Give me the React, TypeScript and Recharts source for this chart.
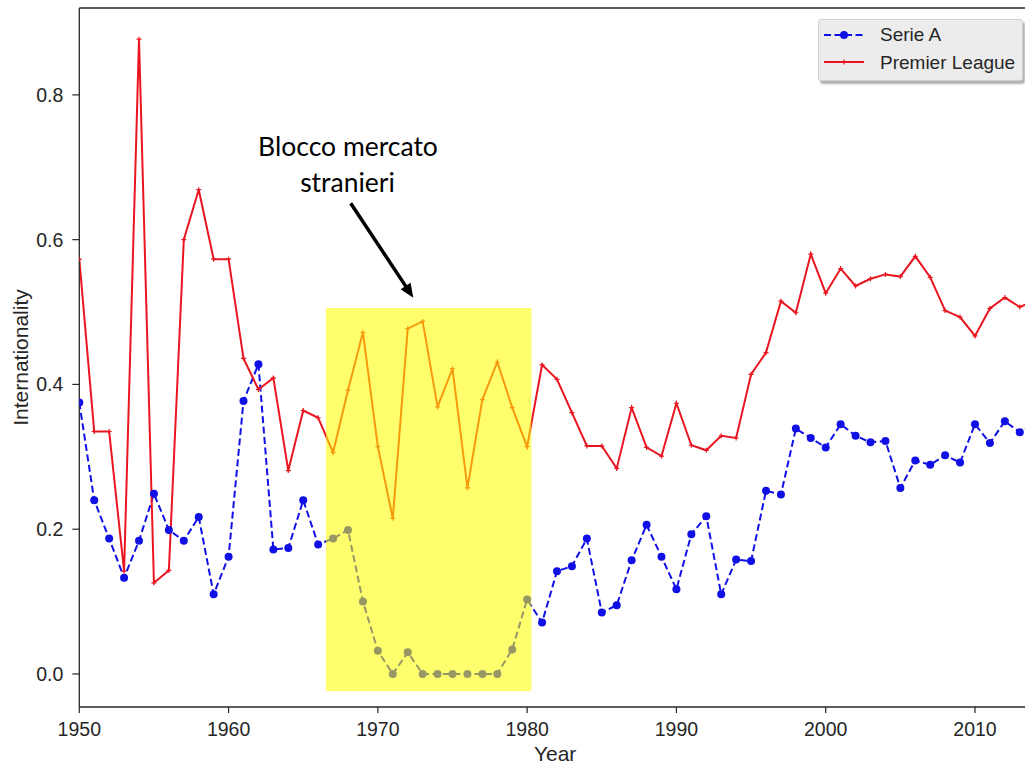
import { LineChart, Line, XAxis, YAxis, ReferenceArea, ReferenceLine, Label } from "recharts";

const years = [
  1950, 1951, 1952, 1953, 1954, 1955, 1956, 1957, 1958, 1959,
  1960, 1961, 1962, 1963, 1964, 1965, 1966, 1967, 1968, 1969,
  1970, 1971, 1972, 1973, 1974, 1975, 1976, 1977, 1978, 1979,
  1980, 1981, 1982, 1983, 1984, 1985, 1986, 1987, 1988, 1989,
  1990, 1991, 1992, 1993, 1994, 1995, 1996, 1997, 1998, 1999,
  2000, 2001, 2002, 2003, 2004, 2005, 2006, 2007, 2008, 2009,
  2010, 2011, 2012, 2013, 2014,
];

const serieA = [
  0.375, 0.24, 0.187, 0.133, 0.184, 0.249, 0.199, 0.184, 0.217, 0.11,
  0.162, 0.377, 0.428, 0.172, 0.174, 0.24, 0.179, 0.187, 0.199, 0.1,
  0.032, 0.0, 0.03, 0.0, 0.0, 0.0, 0.0, 0.0, 0.0, 0.034,
  0.103, 0.071, 0.142, 0.149, 0.187, 0.085, 0.095, 0.157, 0.206, 0.162,
  0.117, 0.193, 0.218, 0.11, 0.158, 0.156, 0.253, 0.248, 0.339, 0.326,
  0.313, 0.345, 0.329, 0.32, 0.322, 0.257, 0.295, 0.289, 0.302, 0.292,
  0.345, 0.319, 0.349, 0.334, 0.345,
];

const premierLeague = [
  0.573, 0.335, 0.335, 0.142, 0.877, 0.126, 0.143, 0.6, 0.669, 0.573,
  0.573, 0.436, 0.393, 0.409, 0.281, 0.364, 0.354, 0.306, 0.392, 0.472,
  0.314, 0.215, 0.477, 0.487, 0.369, 0.422, 0.257, 0.379, 0.431, 0.368,
  0.314, 0.427, 0.407, 0.361, 0.315, 0.315, 0.284, 0.368, 0.313, 0.301,
  0.374, 0.316, 0.309, 0.329, 0.326, 0.414, 0.444, 0.515, 0.499, 0.58,
  0.526, 0.56, 0.536, 0.546, 0.552, 0.549, 0.577, 0.548, 0.502, 0.493,
  0.467, 0.505, 0.52, 0.507, 0.515,
];

const xTicks = [1950, 1960, 1970, 1980, 1990, 2000, 2010];
const yTicks = [0, 0.2, 0.4, 0.6, 0.8];

// highlighted period ("Blocco mercato stranieri")
const blockStart = 1966.52;
const blockEnd = 1980.28;
const blockLow = -0.024;
const blockHigh = 0.5055;

const X_MIN = 1950;
const X_MAX = 2013.35;
const Y_MIN = -0.0456;
const Y_MAX = 0.92;

const BLUE = "#1010e6";
const RED = "#ea1520";
const INK = "#262626";
const FONT = "'Liberation Sans', Arial, sans-serif";

const data = years.map((year, i) => ({
  year,
  serieA: serieA[i],
  premier: premierLeague[i],
}));

const blueDot = (p: any) => (
  <circle key={`sa-${p.index}`} cx={p.cx} cy={p.cy} r={4} fill={BLUE} />
);

const redDot = (p: any) => (
  <path
    key={`pl-${p.index}`}
    d={`M${p.cx - 2.5},${p.cy}h5M${p.cx},${p.cy - 2.5}v5`}
    stroke={RED}
    strokeWidth={1.2}
  />
);

function LegendBox() {
  return (
    <div
      style={{
        position: "absolute",
        left: 818,
        top: 19,
        width: 205,
        height: 62,
        background: "#ececec",
        border: "1px solid #d0d0d0",
        borderRadius: 3,
        boxShadow: "2px 3px 2px rgba(0,0,0,0.3)",
        fontFamily: FONT,
        fontSize: 19,
        color: INK,
        boxSizing: "border-box",
      }}
    >
      <svg width={50} height={61} style={{ position: "absolute", left: 0, top: 0 }}>
        <line x1={5} y1={15} x2={45} y2={15} stroke={BLUE} strokeWidth={2} strokeDasharray="7 3.5" />
        <circle cx={25} cy={15} r={4} fill={BLUE} />
        <line x1={5} y1={42} x2={45} y2={42} stroke={RED} strokeWidth={2} />
        <path d="M22.5,42h5M25,39.5v5" stroke={RED} strokeWidth={1.2} />
      </svg>
      <div style={{ position: "absolute", left: 61, top: 4, lineHeight: "22px" }}>Serie A</div>
      <div style={{ position: "absolute", left: 61, top: 32, lineHeight: "22px" }}>Premier League</div>
    </div>
  );
}

export default function App() {
  return (
    <div style={{ position: "absolute", left: 0, top: 0, width: 1025, height: 764, background: "#fff" }}>
      <LineChart
        width={1025}
        height={764}
        data={data}
        margin={{ top: 8, right: 0, bottom: 0, left: 0 }}
      >
        <XAxis
          dataKey="year"
          type="number"
          domain={[X_MIN, X_MAX]}
          allowDataOverflow
          ticks={xTicks}
          height={57}
          tickSize={6}
          tickMargin={9}
          axisLine={{ stroke: INK, strokeWidth: 1.3 }}
          tickLine={{ stroke: INK, strokeWidth: 1.2 }}
          tick={{ fill: INK, fontSize: 19.5, fontFamily: FONT }}
        >
          <Label
            content={(p: any) => {
              const vb = p.viewBox || { x: 79, width: 946 };
              return (
                <text x={vb.x + vb.width / 2 + 3} y={761} textAnchor="middle" fill={INK} fontSize={21} fontFamily={FONT}>
                  Year
                </text>
              );
            }}
          />
        </XAxis>
        <YAxis
          type="number"
          domain={[Y_MIN, Y_MAX]}
          allowDataOverflow
          ticks={yTicks}
          width={79.3}
          tickSize={7}
          tickMargin={9}
          tickFormatter={(v: number) => v.toFixed(1)}
          axisLine={{ stroke: INK, strokeWidth: 1.3 }}
          tickLine={{ stroke: INK, strokeWidth: 1.2 }}
          tick={{ fill: INK, fontSize: 19.5, fontFamily: FONT }}
        >
          <Label
            content={(p: any) => {
              const vb = p.viewBox || { y: 8, height: 699 };
              const cy = vb.y + vb.height / 2;
              return (
                <text
                  x={28}
                  y={cy}
                  transform={`rotate(-90, 28, ${cy})`}
                  textAnchor="middle"
                  fill={INK}
                  fontSize={21}
                  fontFamily={FONT}
                >
                  Internationality
                </text>
              );
            }}
          />
        </YAxis>
        <ReferenceLine y={Y_MAX} stroke={INK} strokeWidth={1.3} />
        <Line
          dataKey="serieA"
          name="Serie A"
          stroke={BLUE}
          strokeWidth={2}
          strokeDasharray="7 3.5"
          dot={blueDot}
          activeDot={false}
          isAnimationActive={false}
        />
        <Line
          dataKey="premier"
          name="Premier League"
          stroke={RED}
          strokeWidth={2}
          dot={redDot}
          activeDot={false}
          isAnimationActive={false}
        />
        <ReferenceArea
          x1={blockStart}
          x2={blockEnd}
          y1={blockLow}
          y2={blockHigh}
          fill="#ffff00"
          fillOpacity={0.57}
          stroke="none"
          zIndex={1000}
        />
      </LineChart>
      <LegendBox />
      <svg
        width={1025}
        height={764}
        style={{ position: "absolute", left: 0, top: 0, pointerEvents: "none" }}
      >
        <text x={348} y={156} textAnchor="middle" fontFamily="Lato, sans-serif" fontSize={26.5} fill="#000">
          Blocco mercato
        </text>
        <text x={347.5} y={191.7} textAnchor="middle" fontFamily="Lato, sans-serif" fontSize={26.5} fill="#000">
          stranieri
        </text>
        <line x1={350.7} y1={203.3} x2={406} y2={286.6} stroke="#000" strokeWidth={3.5} />
        <polygon points="413.3,297.7 400.6,289.3 410.6,282.7" fill="#000" />
      </svg>
    </div>
  );
}
